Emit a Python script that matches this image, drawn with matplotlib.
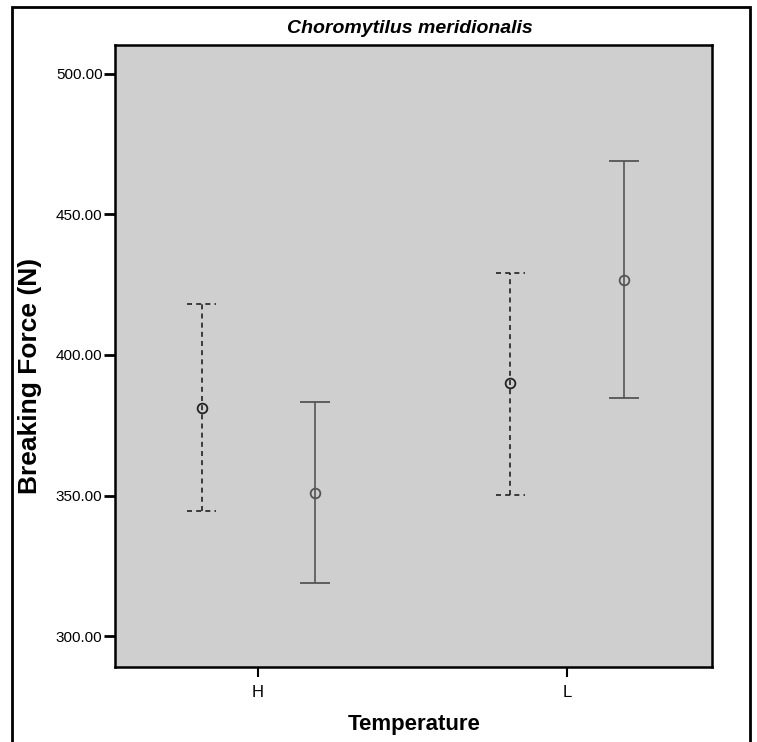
import numpy as np
import matplotlib.pyplot as plt
from matplotlib.patches import Rectangle

plt.rcParams['font.family'] = ['Liberation Sans', 'DejaVu Sans']

# Datos (medias e intervalos)
groups = ['H', 'L']
mean_dashed = [381.3, 389.9]
low_dashed = [344.4, 350.2]
high_dashed = [418.2, 429.1]
mean_solid = [350.9, 426.7]
low_solid = [319.0, 384.8]
high_solid = [383.1, 469.0]
yticks = [300, 350, 400, 450, 500]

fig = plt.figure(figsize=(7.57, 7.42), dpi=100)
ax = fig.add_axes([0.1519, 0.1011, 0.7886, 0.8383])
ax.set_facecolor('#cfcfcf')

x = np.arange(len(groups))
off = 0.183
dash = (0, (3, 2.5))

m = np.array(mean_dashed)
err = [m - np.array(low_dashed), np.array(high_dashed) - m]
eb = ax.errorbar(x - off, m, yerr=err, fmt='o', mfc='none', mec='#222222', mew=1.3, ms=7,
                 ecolor='#222222', elinewidth=1.2, capsize=0)
eb[2][0].set_linestyle(dash)
# tapas discontinuas
for xi, lo, hi in zip(x - off, low_dashed, high_dashed):
    ax.hlines([lo, hi], xi - 0.048, xi + 0.048, colors='#222222', linestyles=dash, lw=1.2)

m2 = np.array(mean_solid)
err2 = [m2 - np.array(low_solid), np.array(high_solid) - m2]
ax.errorbar(x + off, m2, yerr=err2, fmt='o', mfc='none', mec='#555555', mew=1.3, ms=7,
            ecolor='#555555', elinewidth=1.2, capsize=10.5, capthick=1.2)

ax.set_xlim(-0.463, 1.469)
ax.set_ylim(289.0, 510.3)
ax.set_xticks(x)
ax.set_xticklabels(groups, fontsize=12)
ax.set_yticks(yticks)
ax.set_yticklabels(['%.2f' % v for v in yticks], fontsize=11)
ax.tick_params(axis='y', direction='out', length=8, width=2, pad=1)
ax.tick_params(axis='x', direction='out', length=7, width=1.5, pad=6)
for s in ax.spines.values():
    s.set_linewidth(1.8)
    s.set_color('black')

fig.text(0.542, 0.962, 'Choromytilus meridionalis', ha='center', va='center',
         fontsize=14, fontweight='bold', fontstyle='italic')
fig.text(0.547, 0.023, 'Temperature', ha='center', va='center', fontsize=16, fontweight='bold')
fig.text(0.04, 0.493, 'Breaking Force (N)', ha='center', va='center', rotation=90,
         fontsize=19, fontweight='bold')

# marco exterior
fig.patches.append(Rectangle((12 / 757, -0.05), (750 - 12) / 757, 1.05 - 7 / 742,
                             transform=fig.transFigure, fill=False, ec='black', lw=2))

fig.savefig('out.png', dpi=100)
